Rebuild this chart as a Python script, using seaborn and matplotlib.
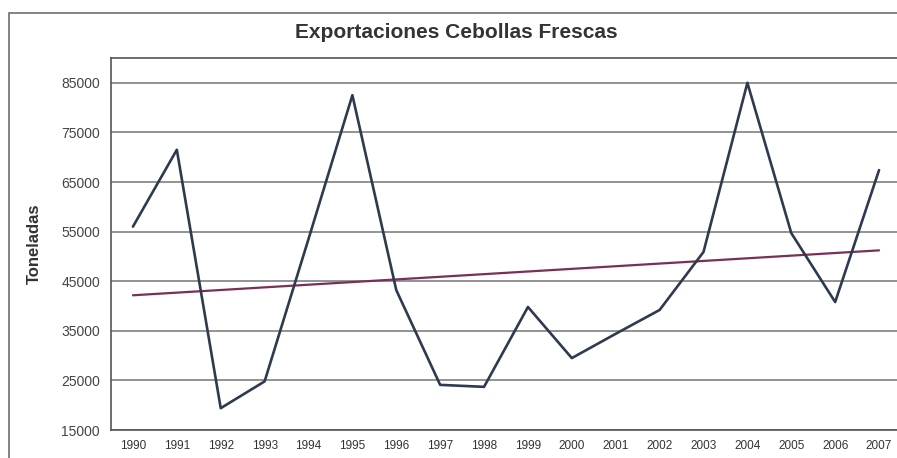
import numpy as np
import pandas as pd
import matplotlib
matplotlib.use("Agg")
import matplotlib.pyplot as plt
from matplotlib.patches import Rectangle
from matplotlib.ticker import FixedLocator
import seaborn as sns

# ── DATA ──────────────────────────────────────────────────
years = ['1990', '1991', '1992', '1993', '1994', '1995', '1996', '1997', '1998',
         '1999', '2000', '2001', '2002', '2003', '2004', '2005', '2006', '2007']
toneladas = [56000, 71500, 19400, 24800, 53500, 82500, 43200, 24100, 23700,
             39800, 29500, 34400, 39200, 50900, 85000, 54700, 40800, 67400]
y_ticks = [15000, 25000, 35000, 45000, 55000, 65000, 75000, 85000]
y_labels = ['15000', '25000', '35000', '45000', '55000', '65000', '75000', '85000']

df = pd.DataFrame({'idx': np.arange(len(years)), 'Toneladas': toneladas})

# ── STYLE ─────────────────────────────────────────────────
sns.set_style("white")
plt.rcParams['font.family'] = ['Liberation Sans', 'DejaVu Sans']

fig = plt.figure(figsize=(8.97, 4.58), dpi=100)
W, H = 897, 458

# outer chart frame
fig.patches.append(Rectangle((9 / W, -0.1), 1.2, 1 - 13 / H + 0.1,
                             transform=fig.transFigure, fill=False,
                             edgecolor='#6e6e6e', linewidth=1.2))

ax = fig.add_axes([111 / W, 1 - 430 / H, (901 - 111) / W, (430 - 58) / H])

# gridlines
for v in y_ticks:
    ax.axhline(v, color='#8a8a8a', linewidth=1.3, zorder=1)

# data line and trendline
sns.lineplot(data=df, x='idx', y='Toneladas', ax=ax, color='#2e3a4e',
             linewidth=1.9, zorder=3)
sns.regplot(data=df, x='idx', y='Toneladas', ax=ax, scatter=False, ci=None,
            truncate=True, line_kws={'color': '#7b2f55', 'linewidth': 1.6, 'zorder': 2})

ax.set_xlim(-0.5, len(years) - 0.5)
ax.set_ylim(15000, 90000)

ax.set_xticks(df['idx'])
ax.set_xticklabels(years, fontsize=8.5, color='#333333')
ax.xaxis.set_minor_locator(FixedLocator(np.arange(-0.5, len(years), 1.0)))
ax.tick_params(axis='x', which='major', length=0, pad=7)
ax.tick_params(axis='x', which='minor', length=3, width=1, color='#555555', direction='out')
ax.set_yticks(y_ticks)
ax.set_yticklabels(y_labels, fontsize=10, color='#444444')
ax.tick_params(axis='y', length=4, width=1, color='#555555', direction='out', pad=4)

for s in ax.spines.values():
    s.set_color('#555555')
    s.set_linewidth(1.2)

ax.set_xlabel('')
ax.set_ylabel('Toneladas', fontsize=12, fontweight='bold', color='#333333', labelpad=14)

fig.text(456 / W, 1 - 33 / H, 'Exportaciones Cebollas Frescas', ha='center', va='center',
         fontsize=15, fontweight='bold', color='#333333')

plt.savefig('out.png', dpi=100)
